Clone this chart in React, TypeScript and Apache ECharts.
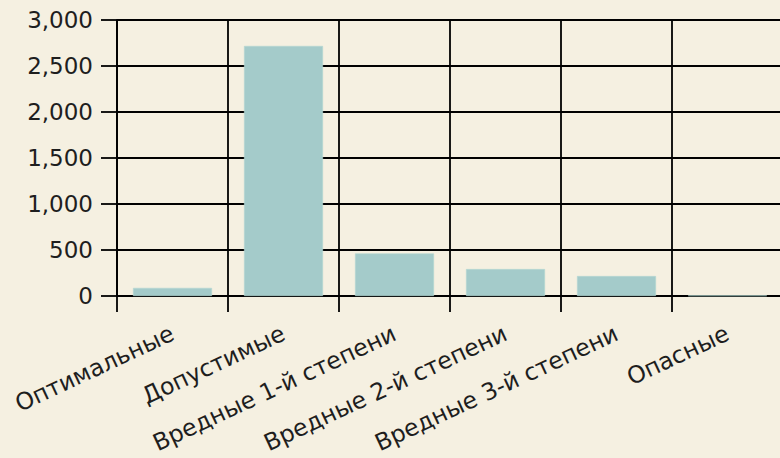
import React, { useEffect, useRef } from "react";
import * as echarts from "echarts";

const categories = [
  "Оптимальные",
  "Допустимые",
  "Вредные 1-й степени",
  "Вредные 2-й степени",
  "Вредные 3-й степени",
  "Опасные",
];
const values = [88, 2718, 463, 293, 217, 5];
const yMin = 0;
const yMax = 3000;
const yInterval = 500;

export default function App() {
  const ref = useRef<HTMLDivElement>(null);
  useEffect(() => {
    document.body.style.margin = "0";
    document.body.style.background = "#f5f0e1";
    const chart = echarts.init(ref.current!, null, { renderer: "svg" });
    const font = "DejaVu Sans";
    const lineColor = "#000";
    chart.setOption({
      animation: false,
      backgroundColor: "#f5f0e1",
      textStyle: { fontFamily: font },
      grid: {
        left: 117,
        width: 666,
        top: 20,
        height: 276,
        containLabel: false,
        outerBoundsMode: "none",
      },
      xAxis: {
        type: "category",
        data: categories,
        boundaryGap: true,
        axisLine: { show: true, lineStyle: { color: lineColor, width: 1.8 } },
        axisTick: { show: true, length: 16, inside: false, lineStyle: { color: lineColor, width: 1.8 } },
        splitLine: { show: true, interval: 0, lineStyle: { color: lineColor, width: 1.8 } },
        axisLabel: {
          interval: 0,
          rotate: 25,
          margin: 36,
          fontSize: 23.5,
          color: "#1e1e1e",
          fontFamily: font,
        },
      },
      yAxis: {
        type: "value",
        min: yMin,
        max: yMax,
        interval: yInterval,
        axisLine: { show: true, lineStyle: { color: lineColor, width: 1.8 } },
        axisTick: { show: true, length: 16, inside: false, lineStyle: { color: lineColor, width: 1.8 } },
        splitLine: { show: true, lineStyle: { color: lineColor, width: 1.8 } },
        axisLabel: {
          margin: 24,
          fontSize: 23,
          color: "#1e1e1e",
          fontFamily: font,
          formatter: (v: number) => v.toLocaleString("en-US"),
        },
      },
      series: [
        {
          type: "bar",
          data: values,
          barWidth: 79,
          itemStyle: { color: "#a4cbca", borderColor: "#b4d6d2", borderWidth: 0.6 },
        },
      ],
    });
    return () => chart.dispose();
  }, []);
  return <div ref={ref} style={{ width: 780, height: 458 }} />;
}
